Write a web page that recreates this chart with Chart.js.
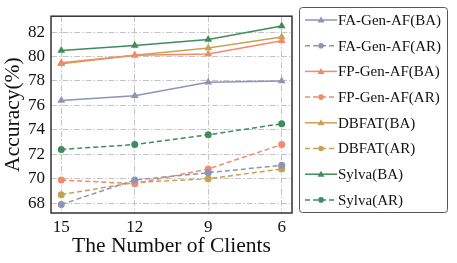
<!DOCTYPE html>
<html>
<head>
<meta charset="utf-8">
<script src="https://cdn.jsdelivr.net/npm/chart.js@4/dist/chart.umd.min.js"></script>
<style>
  html, body { margin: 0; padding: 0; background: #fff; }
  #wrap { width: 457px; height: 263px; }
</style>
</head>
<body>
<div id="wrap"><canvas id="accChart" width="457" height="263"></canvas></div>
<script>
// data
const clients = ['15', '12', '9', '6'];
const yTicks = [68, 70, 72, 74, 76, 78, 80, 82];

const faGenBA = [76.4, 76.8, 77.9, 78.0];
const faGenAR = [67.9, 69.9, 70.5, 71.1];
const fpGenBA = [79.5, 80.1, 80.2, 81.3];
const fpGenAR = [69.9, 69.6, 70.8, 72.8];
const dbfatBA = [79.4, 80.1, 80.7, 81.6];
const dbfatAR = [68.7, 69.7, 70.0, 70.8];
const sylvaBA = [80.5, 80.9, 81.4, 82.5];
const sylvaAR = [72.4, 72.8, 73.6, 74.5];

const FA = '#8d94b6';
const FP = '#f08a68';
const DB = '#c9a250';
const SY = '#3f8c5c';

function series(label, values, color, dashed) {
    return {
        label: label,
        data: values.map((v, i) => ({ x: i, y: v })),
        borderColor: color,
        backgroundColor: color,
        borderWidth: 1.5,
        borderDash: dashed ? [5, 3] : [],
        pointStyle: dashed ? 'circle' : 'triangle',
        pointRadius: dashed ? 3.5 : 4.5,
        pointBorderWidth: 0,
        tension: 0
    };
}

const serif = "'Liberation Serif', 'DejaVu Serif', serif";

// legend box with line + marker samples
const lineLegend = {
    id: 'lineLegend',
    afterDraw(chart) {
        const ctx = chart.ctx;
        const x0 = 299.5, y0 = 7.5, w = 148, h = 205;
        ctx.save();
        ctx.strokeStyle = '#555';
        ctx.lineWidth = 1;
        ctx.beginPath();
        ctx.roundRect(x0, y0, w, h, 3);
        ctx.stroke();
        ctx.font = '15px ' + serif;
        ctx.textBaseline = 'middle';
        chart.data.datasets.forEach((ds, i) => {
            const y = 20 + i * 25.7;
            ctx.strokeStyle = ds.borderColor;
            ctx.lineWidth = 1.5;
            ctx.setLineDash(ds.borderDash);
            ctx.beginPath();
            ctx.moveTo(305, y);
            ctx.lineTo(337, y);
            ctx.stroke();
            ctx.setLineDash([]);
            ctx.fillStyle = ds.backgroundColor;
            ctx.beginPath();
            if (ds.pointStyle === 'triangle') {
                ctx.moveTo(321, y - 3.5);
                ctx.lineTo(324.5, y + 2.5);
                ctx.lineTo(317.5, y + 2.5);
            } else {
                ctx.arc(321, y, 2.8, 0, Math.PI * 2);
            }
            ctx.fill();
            ctx.fillStyle = '#111';
            ctx.fillText(ds.label, 338, y + 1);
        });
        ctx.restore();
    }
};

// dark frame around plot area
const frame = {
    id: 'frame',
    afterDraw(chart) {
        const a = chart.chartArea;
        const ctx = chart.ctx;
        ctx.save();
        ctx.strokeStyle = '#333';
        ctx.lineWidth = 1.5;
        ctx.strokeRect(a.left, a.top, a.right - a.left, a.bottom - a.top);
        ctx.restore();
    }
};

const chart = new Chart(document.getElementById('accChart').getContext('2d'), {
    type: 'line',
    data: {
        datasets: [
            series('FA-Gen-AF(BA)', faGenBA, FA, false),
            series('FA-Gen-AF(AR)', faGenAR, FA, true),
            series('FP-Gen-AF(BA)', fpGenBA, FP, false),
            series('FP-Gen-AF(AR)', fpGenAR, FP, true),
            series('DBFAT(BA)', dbfatBA, DB, false),
            series('DBFAT(AR)', dbfatAR, DB, true),
            series('Sylva(BA)', sylvaBA, SY, false),
            series('Sylva(AR)', sylvaAR, SY, true)
        ]
    },
    options: {
        responsive: false,
        animation: false,
        layout: { padding: { top: 7, right: 165, left: 0, bottom: 0 } },
        plugins: {
            legend: { display: false },
            tooltip: { enabled: false }
        },
        scales: {
            x: {
                type: 'linear',
                min: -0.14,
                max: 3.14,
                afterBuildTicks: (s) => { s.ticks = clients.map((c, i) => ({ value: i })); },
                afterFit: (s) => { s.height = 50; },
                grid: { color: '#c4c4c4', lineWidth: 1, drawTicks: false },
                border: { display: false, dash: [6, 2, 1.5, 2] },
                ticks: {
                    padding: 4,
                    color: '#111',
                    font: { family: serif, size: 17 },
                    callback: (v) => clients[v]
                },
                title: {
                    display: true,
                    text: 'The Number of Clients',
                    color: '#111',
                    font: { family: serif, size: 21.5 },
                    padding: { top: 0 }
                }
            },
            y: {
                min: 67.2,
                max: 83.3,
                afterBuildTicks: (s) => { s.ticks = yTicks.map(v => ({ value: v })); },
                afterFit: (s) => { s.width = 51; },
                grid: { color: '#c4c4c4', lineWidth: 1, drawTicks: false },
                border: { display: false, dash: [6, 2, 1.5, 2] },
                ticks: {
                    padding: 6,
                    color: '#111',
                    font: { family: serif, size: 17 }
                },
                title: {
                    display: true,
                    text: 'Accuracy(%)',
                    color: '#111',
                    font: { family: serif, size: 21.5 },
                    padding: { top: 0, bottom: 0 }
                }
            }
        }
    },
    plugins: [frame, lineLegend]
});
</script>
</body>
</html>
